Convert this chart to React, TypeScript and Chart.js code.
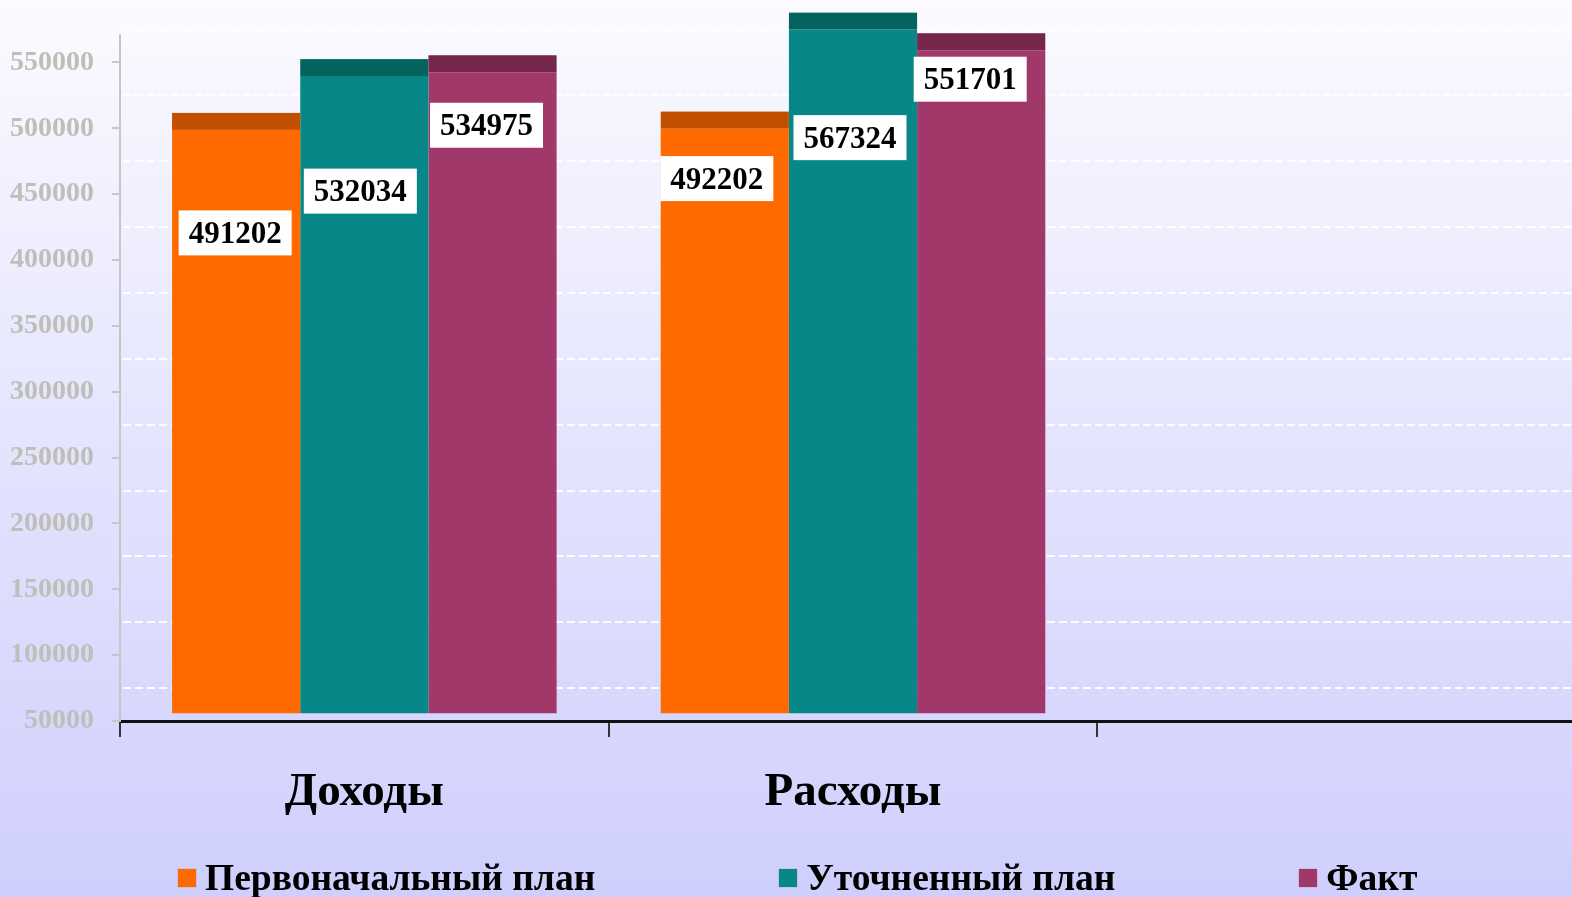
import React, { useEffect, useRef } from "react";
import { Chart, registerables } from "chart.js";

Chart.register(...registerables);

// ---- data ----
const categories = ["Доходы", "Расходы", ""];
const seriesNames = ["Первоначальный план", "Уточненный план", "Факт"];
const initialPlan = [491202, 492202, null];
const revisedPlan = [532034, 567324, null];
const actual = [534975, 551701, null];
const yTickValues = [50000, 100000, 150000, 200000, 250000, 300000, 350000, 400000, 450000, 500000, 550000];
const series = [initialPlan, revisedPlan, actual];

// ---- styles / layout ----
const FONT = '"Liberation Serif", "Times New Roman", serif';
const FRONT = ["#FF6A00", "#078787", "#A0396A"];
const TOP = ["#C24F00", "#04625F", "#77264B"];
const Y_MIN = 50000;
const Y_MAX = 571000;
const BAR_BASE = 48300;
const DEPTH_SHIFT = 10; // 3D front-face lift in px
const CAP_HEIGHT = 17;
// label offsets (px) relative to bar centre / bar front top, [dataset][category]
const LABEL_DX = [[-1, -8], [-4, -3], [-6, -11]];
const LABEL_DY = [[103, 50], [115, 108], [53, 29]];

const barDecor = {
  id: "barDecor",
  beforeDatasetsDraw(chart: any) {
    const { ctx, chartArea, scales } = chart;
    const y = scales.y;
    ctx.save();
    ctx.setLineDash([8, 4]);
    ctx.strokeStyle = "rgba(255,255,255,0.95)";
    ctx.lineWidth = 2;
    for (const v of yTickValues) {
      const py = Math.round(y.getPixelForValue(v + 25000));
      ctx.beginPath();
      ctx.moveTo(chartArea.left + 3, py);
      ctx.lineTo(chart.width, py);
      ctx.stroke();
    }
    ctx.restore();
  },
  beforeDatasetDraw(chart: any) {
    chart.ctx.save();
    chart.ctx.translate(0, -DEPTH_SHIFT);
  },
  afterDatasetDraw(chart: any) {
    chart.ctx.restore();
  },
  afterDatasetsDraw(chart: any) {
    const { ctx } = chart;
    ctx.save();
    // caps
    chart.data.datasets.forEach((ds: any, di: number) => {
      const meta = chart.getDatasetMeta(di);
      meta.data.forEach((el: any, ci: number) => {
        if (ds.data[ci] == null) return;
        ctx.fillStyle = TOP[di];
        ctx.fillRect(el.x - el.width / 2, el.y - DEPTH_SHIFT - CAP_HEIGHT, el.width, CAP_HEIGHT);
      });
    });
    // labels
    ctx.font = `bold 31px ${FONT}`;
    ctx.textAlign = "center";
    ctx.textBaseline = "middle";
    chart.data.datasets.forEach((ds: any, di: number) => {
      const meta = chart.getDatasetMeta(di);
      meta.data.forEach((el: any, ci: number) => {
        const v = ds.data[ci];
        if (v == null) return;
        const text = String(v);
        const w = ctx.measureText(text).width + 20;
        const h = 45;
        const cx = el.x + (LABEL_DX[di]?.[ci] ?? 0);
        const cy = el.y - DEPTH_SHIFT + (LABEL_DY[di]?.[ci] ?? 60);
        ctx.fillStyle = "#ffffff";
        ctx.fillRect(cx - w / 2, cy - h / 2, w, h);
        ctx.fillStyle = "#000000";
        ctx.fillText(text, cx, cy + 2);
      });
    });
    ctx.restore();
  },
};

export default function App() {
  const canvasRef = useRef<HTMLCanvasElement | null>(null);

  useEffect(() => {
    if (!canvasRef.current) return;
    const chart = new Chart(canvasRef.current, {
      type: "bar",
      data: {
        labels: categories,
        datasets: seriesNames.map((name, i) => ({
          label: name,
          data: series[i] as any,
          backgroundColor: FRONT[i],
          borderWidth: 0,
          base: BAR_BASE,
          clip: false as any,
          categoryPercentage: 0.787,
          barPercentage: 1,
        })),
      },
      options: {
        responsive: false,
        animation: false,
        layout: { padding: { top: 32, left: 0, right: 0, bottom: 0 } },
        plugins: {
          legend: { display: false },
          tooltip: { enabled: false },
        },
        scales: {
          x: {
            grid: {
              offset: true,
              drawOnChartArea: false,
              drawTicks: true,
              tickLength: 16,
              color: "#333",
              lineWidth: 2,
            },
            border: { color: "#111", width: 3 },
            ticks: {
              font: { family: FONT, size: 47, weight: "bold" },
              color: "#000",
              padding: 28,
              maxRotation: 0,
              autoSkip: false,
            },
            afterFit: (s: any) => {
              s.height = 897 - 721;
            },
          },
          y: {
            min: Y_MIN,
            max: Y_MAX,
            afterBuildTicks: (s: any) => {
              s.ticks = yTickValues.map((v) => ({ value: v }));
            },
            ticks: {
              font: { family: FONT, size: 28, weight: "bold" },
              color: "#bfbfba",
              padding: 18,
              callback: (v: any) => String(v),
            },
            grid: {
              drawOnChartArea: false,
              drawTicks: true,
              tickLength: 8,
              color: "#c6c6c6",
              lineWidth: 2,
            },
            border: { color: "#c6c6c6", width: 2 },
            afterFit: (s: any) => {
              s.width = 120;
            },
          },
        },
      } as any,
      plugins: [barDecor],
    });
    return () => chart.destroy();
  }, []);

  return (
    <div
      style={{
        position: "absolute",
        left: 0,
        top: 0,
        width: 1572,
        height: 897,
        overflow: "hidden",
        background: "linear-gradient(to bottom, #fbfbff 0%, #e6e6fe 45%, #cfcffd 100%)",
      }}
    >
      <canvas ref={canvasRef} width={1586} height={897} style={{ display: "block" }} />
      <div
        style={{
          position: "absolute",
          top: 858,
          left: 178,
          display: "flex",
          alignItems: "center",
          gap: 184,
          fontFamily: FONT,
          fontWeight: "bold",
          fontSize: 37.5,
          lineHeight: "40px",
          color: "#000",
          whiteSpace: "nowrap",
        }}
      >
        {seriesNames.map((n, i) => (
          <div key={n} style={{ display: "flex", alignItems: "center" }}>
            <span
              style={{
                display: "inline-block",
                width: 18,
                height: 18,
                background: FRONT[i],
                marginRight: 9,
                boxShadow: "0 0 0 1px rgba(200,180,220,0.6)",
              }}
            />
            <span>{n}</span>
          </div>
        ))}
      </div>
    </div>
  );
}
